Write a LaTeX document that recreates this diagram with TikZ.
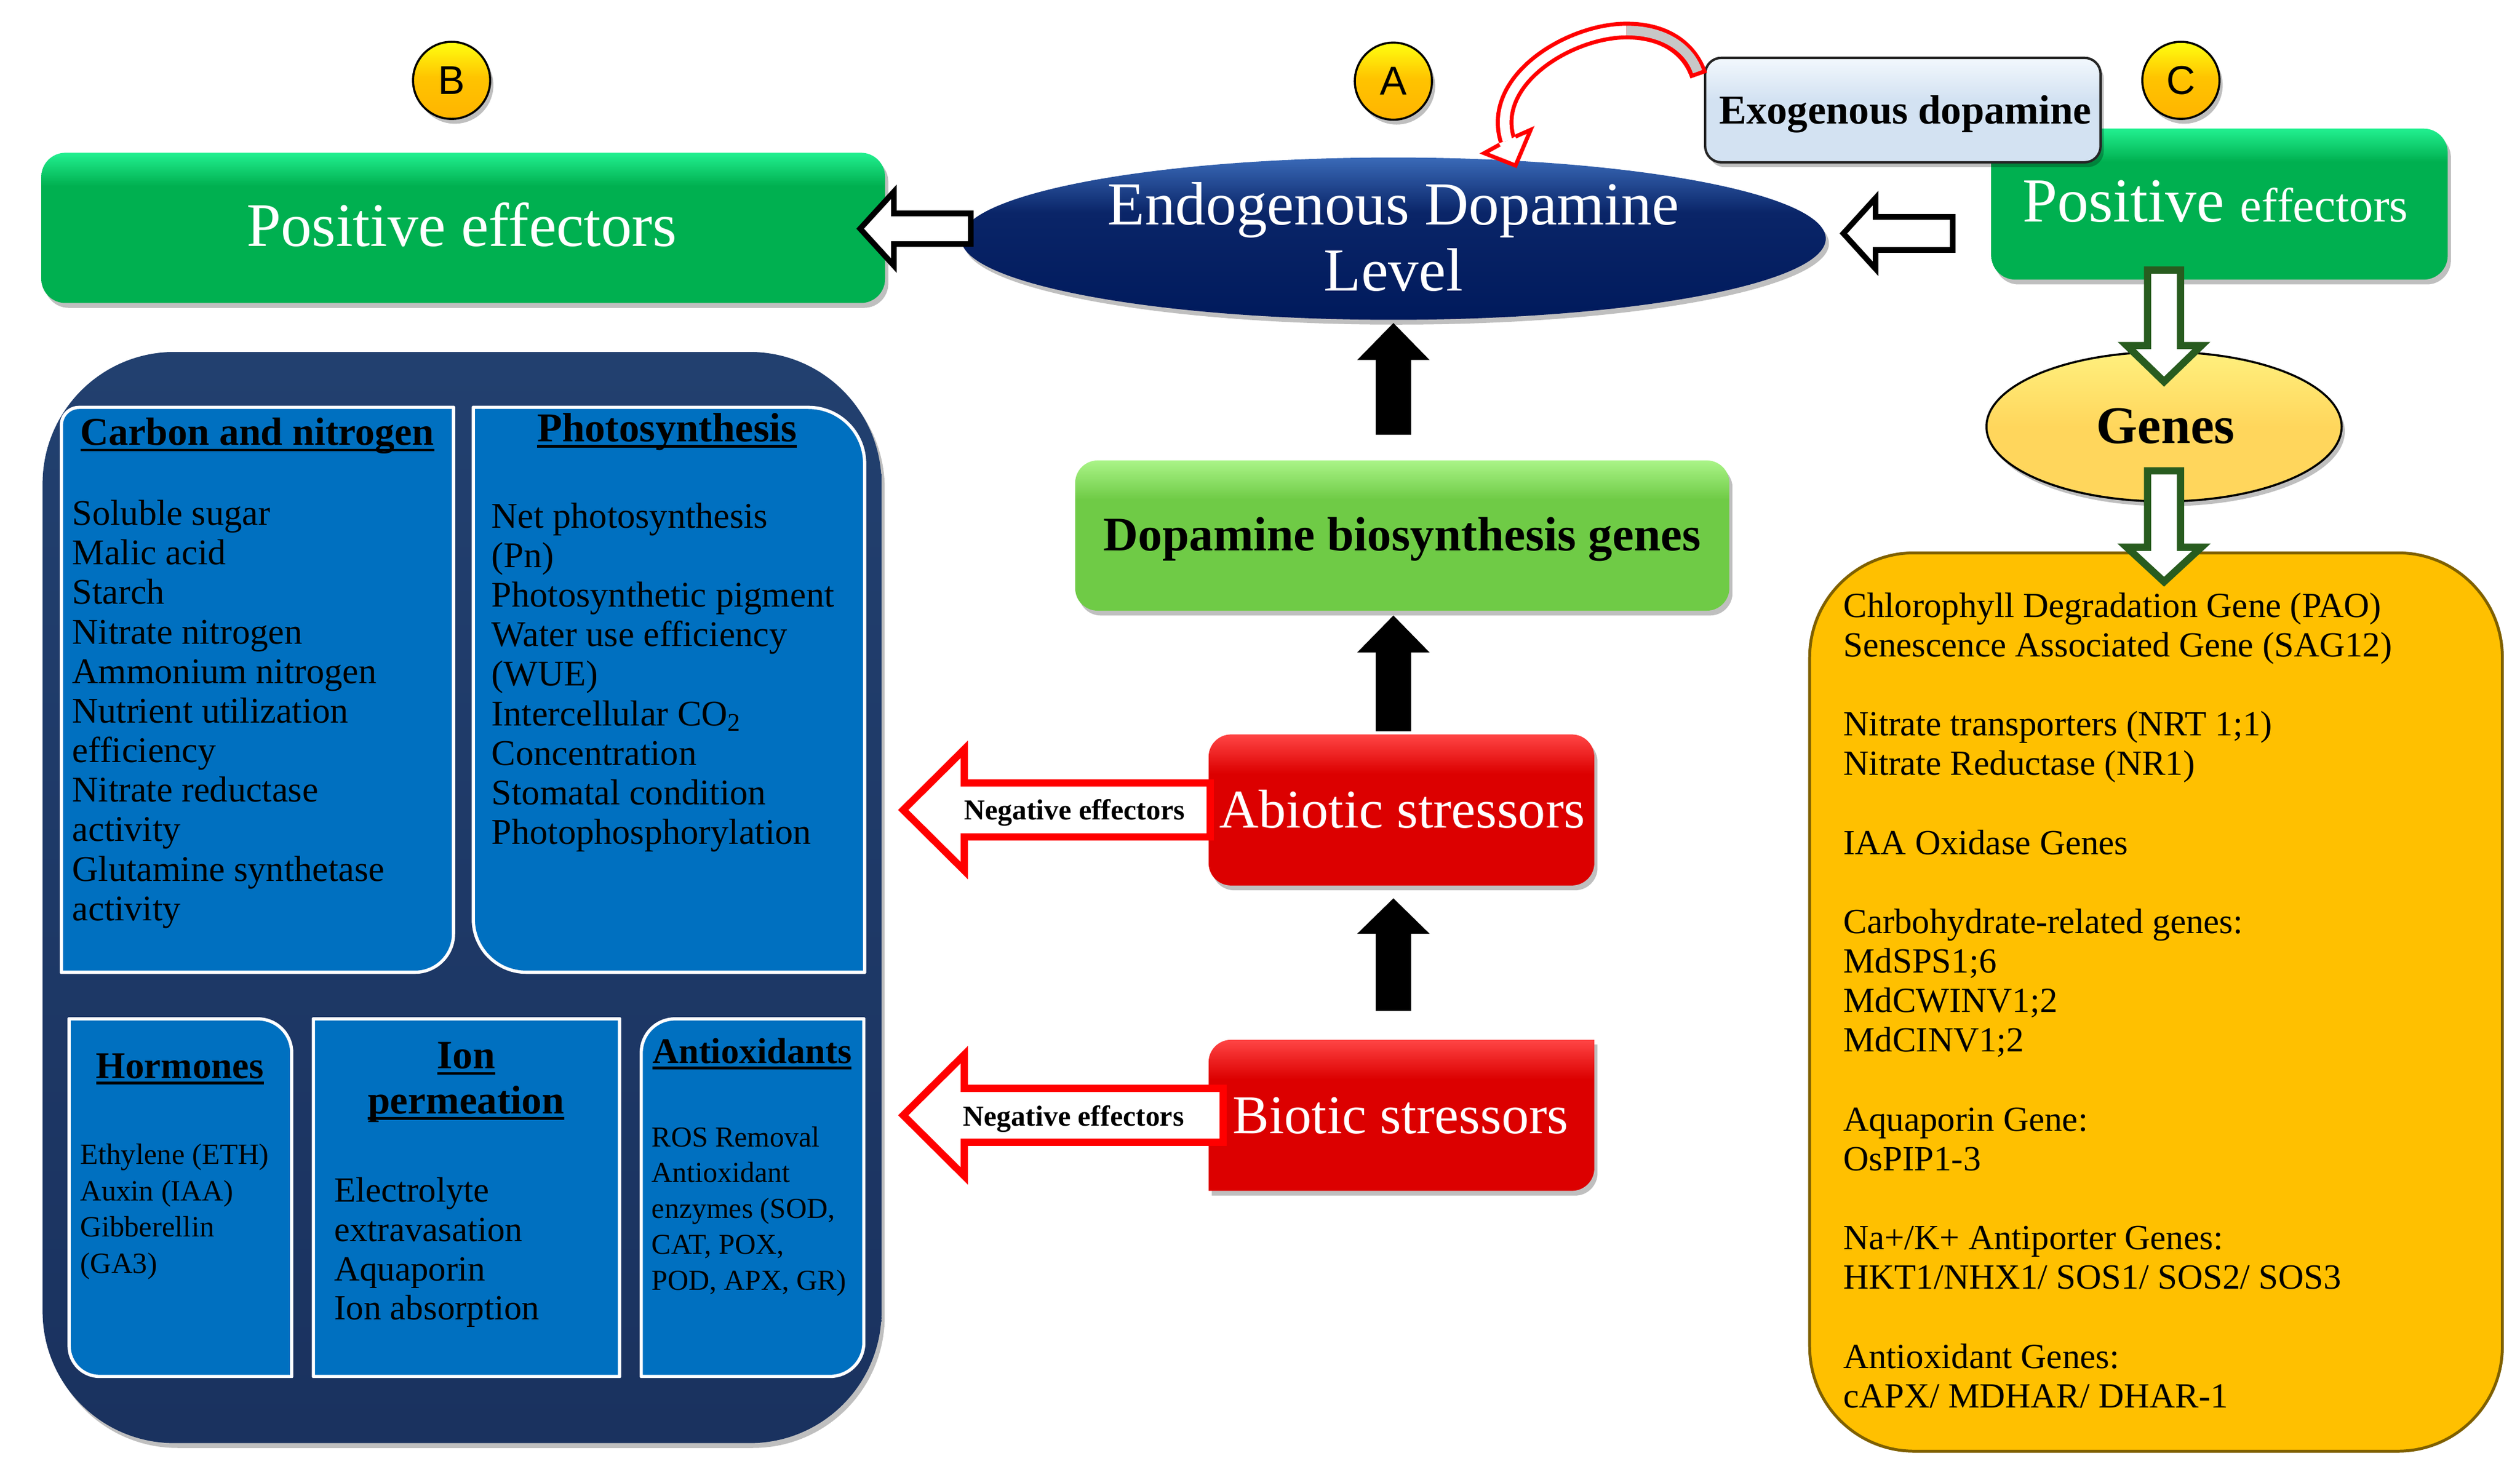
\documentclass[tikz,border=0pt]{standalone}
\usepackage{fontspec}
\setmainfont{Liberation Serif}
\setsansfont{Liberation Sans}
\usetikzlibrary{shapes.geometric,calc,shadows}

\definecolor{gr}{HTML}{00B050}
\definecolor{grlight}{HTML}{22F090}
\definecolor{navy}{HTML}{0A2568}
\definecolor{navydark}{HTML}{001A5C}
\definecolor{navylight}{HTML}{3A6AB8}
\definecolor{paneldark}{HTML}{1A325F}
\definecolor{panellight}{HTML}{22406F}
\definecolor{innerblue}{HTML}{0070C0}
\definecolor{lgreen}{HTML}{6FCB46}
\definecolor{lgreenlight}{HTML}{AAF488}
\definecolor{redbox}{HTML}{DC0000}
\definecolor{redlight}{HTML}{FF4545}
\definecolor{orangebox}{HTML}{FFC000}
\definecolor{orangeedge}{HTML}{7F6000}
\definecolor{genesfill}{HTML}{FFD65C}
\definecolor{geneslight}{HTML}{FFF07E}
\definecolor{exofill}{HTML}{D3E2F2}
\definecolor{exolight}{HTML}{F2F8FD}
\definecolor{dkgreen}{HTML}{285C1F}
\definecolor{circtop}{HTML}{FFFF10}
\definecolor{circmid}{HTML}{FFC400}
\definecolor{circbot}{HTML}{FFB400}

\pgfdeclareverticalshading{greensh}{100bp}{color(0bp)=(gr); color(25bp)=(gr); color(64bp)=(gr); color(75bp)=(grlight); color(100bp)=(grlight)}
\pgfdeclareverticalshading{redsh}{100bp}{color(0bp)=(redbox); color(25bp)=(redbox); color(62bp)=(redbox); color(75bp)=(redlight); color(100bp)=(redlight)}
\pgfdeclareverticalshading{lgreensh}{100bp}{color(0bp)=(lgreen); color(25bp)=(lgreen); color(62bp)=(lgreen); color(75bp)=(lgreenlight); color(100bp)=(lgreenlight)}
\pgfdeclareverticalshading{ellsh}{100bp}{color(0bp)=(navydark); color(25bp)=(navydark); color(58bp)=(navy); color(75bp)=(navylight); color(100bp)=(navylight)}
\pgfdeclareverticalshading{panelsh}{100bp}{color(0bp)=(paneldark); color(25bp)=(paneldark); color(75bp)=(panellight); color(100bp)=(panellight)}
\pgfdeclareverticalshading{circsh}{100bp}{color(0bp)=(circbot); color(25bp)=(circbot); color(52bp)=(circmid); color(75bp)=(circtop); color(100bp)=(circtop)}
\pgfdeclareverticalshading{genessh}{100bp}{color(0bp)=(genesfill); color(25bp)=(genesfill); color(50bp)=(genesfill); color(75bp)=(geneslight); color(100bp)=(geneslight)}
\pgfdeclareverticalshading{exosh}{100bp}{color(0bp)=(exofill); color(25bp)=(exofill); color(55bp)=(exofill); color(75bp)=(exolight); color(100bp)=(exolight)}

\newcommand\fsz[1]{\fontsize{#1}{#1}\selectfont}
% box with individual corner radii: options, x1, y1, x2, y2, rTL, rTR, rBR, rBL
\newcommand\cbox[9]{%
\path[#1] (#2+#6,#3) -- (#4-#7,#3) arc[start angle=270,end angle=360,radius=#7]
 -- (#4,#5-#8) arc[start angle=0,end angle=90,radius=#8]
 -- (#2+#9,#5) arc[start angle=90,end angle=180,radius=#9]
 -- (#2,#3+#6) arc[start angle=180,end angle=270,radius=#6] -- cycle;}
% block arrows: style, tip, tail, head length, head half width, shaft half width
\newcommand\blockL[6]{%
\path[#1] (#2) -- ++(#4,-#5) -- ++(0,#5-#6) -- ($(#3 |- #2)+(0,-#6)$) -- ++(0,2*#6)
 -- ($(#2)+(#4,#6)$) -- ++(0,#5-#6) -- cycle;}
\newcommand\blockU[6]{%
\path[#1] (#2) -- ++(#5,#4) -- ++(#6-#5,0) -- ($(#2 |- #3)+(#6,0)$) -- ++(-2*#6,0)
 -- ($(#2)+(-#6,#4)$) -- ++(#6-#5,0) -- cycle;}
\newcommand\blockD[6]{%
\path[#1] (#2) -- ++(#5,-#4) -- ++(#6-#5,0) -- ($(#2 |- #3)+(#6,0)$) -- ++(-2*#6,0)
 -- ($(#2)+(-#6,-#4)$) -- ++(#6-#5,0) -- cycle;}

\begin{document}
\begin{tikzpicture}[x=1pt,y=-1pt,
  sh/.style={drop shadow={shadow xshift=2pt,shadow yshift=-3pt,opacity=0.25,fill=black}},
  box/.style={rectangle,inner sep=0pt,outer sep=0pt},
  txt/.style={inner sep=0pt,outer sep=0pt,anchor=base},
  ltxt/.style={inner sep=0pt,outer sep=0pt,anchor=base west},
  innerbox/.style={fill=innerblue,draw=white,line width=2pt},
  circ/.style={circle,inner sep=0pt,outer sep=0pt,minimum size=48pt,draw=black,line width=1.3pt,shading=circsh,sh},
  hollowblk/.style={draw=black,line width=3.5pt,fill=white,line join=miter},
  hollowgrn/.style={draw=dkgreen,line width=4.5pt,fill=white,line join=miter},
  hollowred/.style={draw=red,line width=4.5pt,fill=white,line join=miter},
  solidblk/.style={fill=black},
  uline/.style={line width=1.6pt,black},
  ctext/.style={ltxt,font=\fsz{22.5}},
  stext/.style={ltxt,font=\fsz{18.3}},
  otext/.style={ltxt,font=\fsz{22}},
  head/.style={txt,font=\bfseries\fsz{24.5}}
]
\useasboundingbox (0,0) rectangle (1568,920.95);

% ---------- left panel ----------
\node[box,rounded corners=82pt,shading=panelsh,sh,minimum width=522pt,minimum height=679pt] (panel) at (287.5,558.5) {};
\cbox{innerbox}{38.2}{253.5}{282.2}{605}{11}{0.01}{24}{0.01}
\cbox{innerbox}{294.5}{253.5}{538}{605}{0.01}{35}{0.01}{33}
\cbox{innerbox}{43}{634}{181.5}{856.5}{0.01}{21}{0.01}{19}
\cbox{innerbox}{195}{634}{385.5}{856.5}{0.01}{0.01}{0.01}{0.01}
\cbox{innerbox}{399}{634}{537.5}{856.5}{21}{0.01}{21}{0.01}

% ---------- top row ----------
\node[box,rounded corners=15pt,shading=greensh,sh,minimum width=525pt,minimum height=93.5pt] (posL) at (288.2,141.8) {};
\node[circ] (cB) at (281,50) {};
\node[circ] (cA) at (867,50.5) {};
\node[circ] (cC) at (1357,50) {};
\node[ellipse,inner sep=0pt,outer sep=0pt,minimum width=538pt,minimum height=101pt,shading=ellsh,sh] (ell) at (867,148.5) {};
\node[box,rounded corners=15pt,shading=greensh,sh,minimum width=284pt,minimum height=94pt] (posR) at (1381,127) {};
\node[box,rounded corners=10pt,draw=black!85,line width=1.5pt,shading=exosh,sh,minimum width=246pt,minimum height=65pt] (exog) at (1184,68.5) {};

% ---------- right column ----------
\node[ellipse,inner sep=0pt,outer sep=0pt,minimum width=221pt,minimum height=93pt,draw=black,line width=1.3pt,shading=genessh,sh] (genes) at (1346.5,265.5) {};
\node[box,rounded corners=65pt,fill=orangebox,draw=orangeedge,line width=1.8pt,minimum width=431pt,minimum height=559pt] (orange) at (1341.5,623.5) {};

% ---------- centre column ----------
\node[box,rounded corners=14pt,shading=lgreensh,sh,minimum width=407pt,minimum height=93.5pt] (dopa) at (872.5,333.25) {};
\node[box,rounded corners=14pt,shading=redsh,sh,minimum width=240pt,minimum height=94pt] (abio) at (872,504) {};
\cbox{shading=redsh,sh}{752}{647}{992}{741}{14}{0.01}{14}{0.01}
\node[box,minimum width=240pt,minimum height=94pt] (bio) at (872,694) {};

% ---------- block arrows ----------
\coordinate (aL1) at ($(posL.east)+(-15.5,0.5)$);
\coordinate (aL2) at ($(ell.west)+(6,0)$);
\blockL{hollowblk}{aL1}{aL2}{21}{23}{9.5}
\coordinate (aR1) at ($(ell.east)+(11,-3.25)$);
\coordinate (aR2) at ($(posR.west)+(-24,0)$);
\blockL{hollowblk}{aR1}{aR2}{20}{22}{10.25}

\coordinate (g1a) at ($(genes.north)+(0,18.5)$);
\coordinate (g1b) at ($(posR.south)+(0,-6)$);
\blockD{hollowgrn}{g1a}{g1b}{22.5}{23.25}{10.25}
\coordinate (g2a) at ($(orange.north -| genes.south)+(0,18)$);
\coordinate (g2b) at ($(genes.south)+(0,-19)$);
\blockD{hollowgrn}{g2a}{g2b}{21.5}{23.25}{10.25}

\coordinate (u1a) at ($(ell.south)+(0,2)$);
\coordinate (u1b) at ($(dopa.north)+(0,-16)$);
\blockU{solidblk}{u1a}{u1b}{23}{22.5}{11}
\coordinate (u2a) at ($(dopa.south -| ell.south)+(0,3)$);
\coordinate (u2b) at ($(abio.north)+(0,-2)$);
\blockU{solidblk}{u2a}{u2b}{23}{22.5}{11}
\coordinate (u3a) at ($(abio.south -| ell.south)+(0,8)$);
\coordinate (u3b) at ($(bio.north)+(0,-18)$);
\blockU{solidblk}{u3a}{u3b}{22}{22.5}{11}

\coordinate (n1a) at ($(abio.west)+(-190,0)$);
\coordinate (n1b) at ($(abio.west)+(1,0)$);
\blockL{hollowred}{n1a}{n1b}{38}{37.75}{16.75}
\coordinate (n2a) at ($(bio.west)+(-190,0)$);
\coordinate (n2b) at ($(bio.west)+(9,0)$);
\blockL{hollowred}{n2a}{n2b}{38}{37.75}{16.75}

% ---------- curved red arrow (exogenous -> endogenous) ----------
\coordinate (rcT) at ($(exog.north west)+(-4,11)$);
\coordinate (rcA) at ($(exog.north west)+(-49,-17)$);
\coordinate (rcB) at ($(ell.north)+(71,-10.5)$);
\coordinate (rcP) at ($(ell.north)+(76,5)$);
\draw[red,line width=11pt] (rcB) .. controls ($(rcB)+(-12,-38)$) and ($(rcA)+(-35,0)$) .. (rcA)
  .. controls ($(rcA)+(26,0)$) and ($(rcT)+(-5,-15)$) .. (rcT);
\draw[white,line width=6pt] (rcB) .. controls ($(rcB)+(-12,-38)$) and ($(rcA)+(-35,0)$) .. (rcA);
\draw[black!22,line width=6pt,shorten >=2.5pt] (rcA) .. controls ($(rcA)+(26,0)$) and ($(rcT)+(-5,-15)$) .. (rcT);
\filldraw[fill=white,draw=red,line width=2.5pt,line join=miter] ($(rcB)+(-4.9,2.5)$) -- ($(rcB)+(-14.5,7.8)$) -- (rcP) -- ($(rcB)+(14.4,-6.7)$) -- ($(rcB)+(4.9,-2.5)$);

% ---------- texts ----------
\node[txt,anchor=center,font=\sffamily\fsz{25}] (lB) at (cB) {B};
\node[txt,anchor=center,font=\sffamily\fsz{25}] (lA) at (cA) {A};
\node[txt,anchor=center,font=\sffamily\fsz{25}] (lC) at (cC) {C};
\node[txt,text=white,font=\fsz{38.5}] (tPosL) at (287.2,153.3) {Positive effectors};
\node[txt,text=white,font=\fsz{38}] (tEndo1) at (867,140) {Endogenous Dopamine};
\node[txt,text=white,font=\fsz{38}] (tEndo2) at (867,181) {Level};
\node[txt,font=\bfseries\fsz{25.5}] (tExo) at (1185.5,77) {Exogenous dopamine};
\node[txt,text=white] (tPosR) at (1378.5,138) {\fsz{39}Positive \fsz{30}effectors};
\node[txt,font=\bfseries\fsz{33}] (tGenes) at (1347.5,276) {Genes};
\node[txt,font=\bfseries\fsz{30}] (tDopa) at (872.5,342.8) {Dopamine biosynthesis genes};
\node[txt,text=white,font=\fsz{34}] (tAbio) at (872.5,515.2) {Abiotic stressors};
\node[txt,text=white,font=\fsz{34}] (tBio) at (871.5,705.3) {Biotic stressors};
\node[txt,font=\bfseries\fsz{18}] (tNeg1) at (668.5,510) {Negative effectors};
\node[txt,font=\bfseries\fsz{18}] (tNeg2) at (668,700.5) {Negative effectors};

% headings
\node[head] (hC) at (160.1,277) {Carbon and nitrogen};
\node[head,font=\bfseries\fsz{25.5}] (hP) at (415,274.7) {Photosynthesis};
\node[head,font=\bfseries\fsz{23.5}] (hH) at (112,671) {Hormones};
\node[head,font=\bfseries\fsz{25}] (hI1) at (290,665) {Ion};
\node[head,font=\bfseries\fsz{25}] (hI2) at (290,693) {permeation};
\node[head,font=\bfseries\fsz{22.5}] (hA) at (468,661.5) {Antioxidants};
\foreach \h in {hC,hP,hH,hI1,hI2,hA}
  \draw[uline] ($(\h.base west)+(0,3)$) -- ($(\h.base east)+(0,3)$);

% carbon and nitrogen items
\foreach \t [count=\i from 0] in {{Soluble sugar},{Malic acid},{Starch},{Nitrate nitrogen},{Ammonium nitrogen},{Nutrient utilization},{efficiency},{Nitrate reductase},{activity},{Glutamine synthetase},{activity}}
  \node[ctext,name=cn\i] at (45,326.8+24.6*\i) {\t};
% photosynthesis items
\foreach \t [count=\i from 0] in {{Net photosynthesis},{(Pn)},{Photosynthetic pigment},{Water use efficiency},{(WUE)},{Intercellular CO\textsubscript{2}},{Concentration},{Stomatal condition},{Photophosphorylation}}
  \node[ctext,name=ph\i] at (306,328.5+24.6*\i) {\t};
% hormones
\foreach \t [count=\i from 0] in {{Ethylene (ETH)},{Auxin (IAA)},{Gibberellin},{(GA3)}}
  \node[stext,name=ho\i] at (50,724.3+22.7*\i) {\t};
% ion permeation
\foreach \t [count=\i from 0] in {{Electrolyte},{extravasation},{Aquaporin},{Ion absorption}}
  \node[ltxt,font=\fsz{22},name=io\i] at (208,747.8+24.5*\i) {\t};
% antioxidants
\foreach \t [count=\i from 0] in {{ROS Removal},{Antioxidant},{enzymes (SOD,},{CAT, POX,},{POD, APX, GR)}}
  \node[ltxt,font=\fsz{18},name=an\i] at (405.6,713.5+22.3*\i) {\t};

% genes list
\node[otext] (o0) at (1147,384.0) {Chlorophyll Degradation Gene (PAO)};
\node[otext] (o1) at (1147,408.6) {Senescence Associated Gene (SAG12)};
\node[otext] (o3) at (1147,457.8) {Nitrate transporters (NRT 1;1)};
\node[otext] (o4) at (1147,482.4) {Nitrate Reductase (NR1)};
\node[otext] (o6) at (1147,531.6) {IAA Oxidase Genes};
\node[otext] (o8) at (1147,580.8) {Carbohydrate-related genes:};
\node[otext] (o9) at (1147,605.4) {MdSPS1;6};
\node[otext] (o10) at (1147,630.0) {MdCWINV1;2};
\node[otext] (o11) at (1147,654.6) {MdCINV1;2};
\node[otext] (o13) at (1147,703.8) {Aquaporin Gene:};
\node[otext] (o14) at (1147,728.4) {OsPIP1-3};
\node[otext] (o16) at (1147,777.6) {Na+/K+ Antiporter Genes:};
\node[otext] (o17) at (1147,802.2) {HKT1/NHX1/ SOS1/ SOS2/ SOS3};
\node[otext] (o19) at (1147,851.4) {Antioxidant Genes:};
\node[otext] (o20) at (1147,876.0) {cAPX/ MDHAR/ DHAR-1};
\end{tikzpicture}
\end{document}
